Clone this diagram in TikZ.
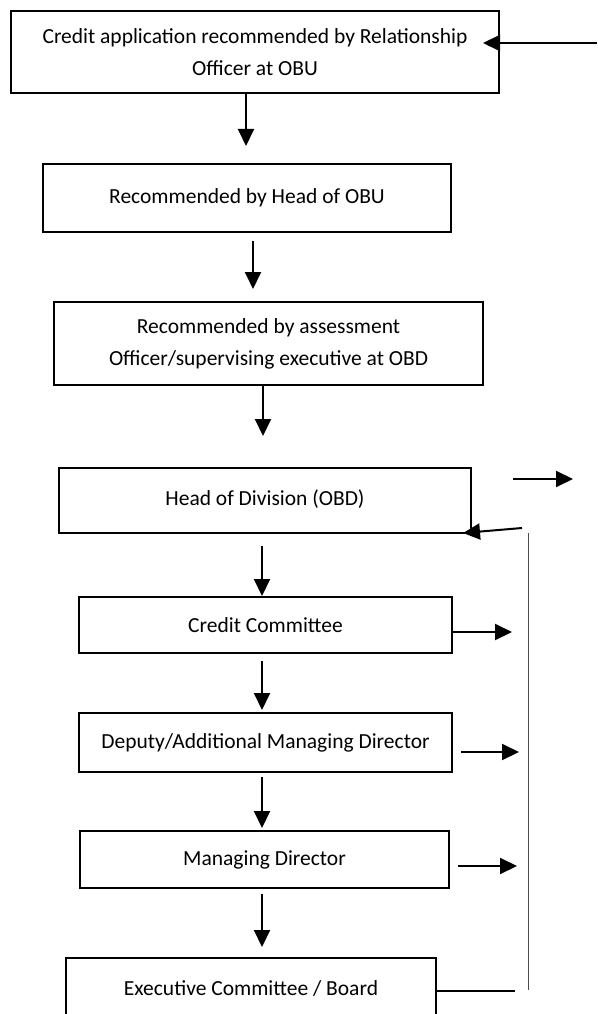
\documentclass[tikz,border=0pt]{standalone}
\usepackage{fontspec}
\setmainfont{Carlito}
\usetikzlibrary{arrows.meta}

\tikzset{
  stepbox/.style={draw, line width=2pt, inner sep=0pt, align=center, font=\fontsize{21.5}{32}\selectfont},
  arr/.style={line width=2pt, -{Triangle[width=16pt,length=17pt]}},
  guide/.style={line width=0.9pt, black!70}
}

\begin{document}
\begin{tikzpicture}[x=1pt,y=-1pt]
        \useasboundingbox (0,0) rectangle (597,1014);

        % boxes of the approval chain
        \node[stepbox, minimum width=488pt, minimum height=82pt] (rel) at (255,52)
            {Credit application recommended by Relationship\\Officer at OBU};
        \node[stepbox, minimum width=408pt, minimum height=68pt] (obu) at (247,198)
            {Recommended by Head of OBU};
        \node[stepbox, minimum width=429pt, minimum height=83pt] (obd) at (268.5,343.5)
            {Recommended by assessment\\Officer/supervising executive at OBD};
        \node[stepbox, minimum width=412pt, minimum height=65pt] (hod) at (265,500.5)
            {\raisebox{5pt}{Head of Division (OBD)}};
        \node[stepbox, minimum width=373pt, minimum height=56pt] (cc) at (265.5,625)
            {Credit Committee};
        \node[stepbox, minimum width=373pt, minimum height=59pt] (amd) at (265.5,742.5)
            {Deputy/Additional Managing Director};
        \node[stepbox, minimum width=369pt, minimum height=57pt] (md) at (264.5,859.5)
            {Managing Director};
        \node[stepbox, minimum width=370pt, minimum height=66pt] (ec) at (251,991)
            {\raisebox{6pt}{Executive Committee / Board}};

        % downward arrows
        \draw[arr] ([xshift=-9pt]rel.south) -- ([xshift=-1pt,yshift=17pt]obu.north);
        \draw[arr] ([xshift=6pt,yshift=-8pt]obu.south) -- ([xshift=-15.5pt,yshift=12pt]obd.north);
        \draw[arr] ([xshift=-5.5pt]obd.south) -- ([xshift=-2pt,yshift=31pt]hod.north);
        \draw[arr] ([xshift=-3pt,yshift=-12pt]hod.south) -- ([xshift=-3.5pt]cc.north);
        \draw[arr] ([xshift=-3.5pt,yshift=-7pt]cc.south) -- ([xshift=-3.5pt,yshift=2pt]amd.north);
        \draw[arr] ([xshift=-3.5pt,yshift=-4pt]amd.south) -- ([xshift=-2.5pt,yshift=2pt]md.north);
        \draw[arr] ([xshift=-2.5pt,yshift=-5pt]md.south) -- ([xshift=11pt,yshift=10pt]ec.north);

        % side arrows
        \coordinate (feed) at (597,43);
        \draw[arr] (feed) -- ([xshift=-17pt]feed -| rel.east);
        \coordinate (outA) at (513,479);
        \coordinate (outB) at (573,479);
        \draw[arr] (outA) -- (outB);
        \coordinate (back) at (522,528);
        \draw[arr] (back) -- ([xshift=-9pt,yshift=1pt]hod.south east);
        \draw[arr] (cc.east |- 0,632) -- (512,632);
        \draw[arr] ([xshift=8pt]amd.east |- 0,752) -- (519,752);
        \draw[arr] ([xshift=8pt]md.east |- 0,866) -- (517,866);

        % return line from the board
        \coordinate (top) at (528,533);
        \coordinate (bot) at (528,990);
        \draw[guide] (top) -- (bot);
        \draw[line width=1.2pt] (ec.east) -- (515,991);
\end{tikzpicture}
\end{document}
